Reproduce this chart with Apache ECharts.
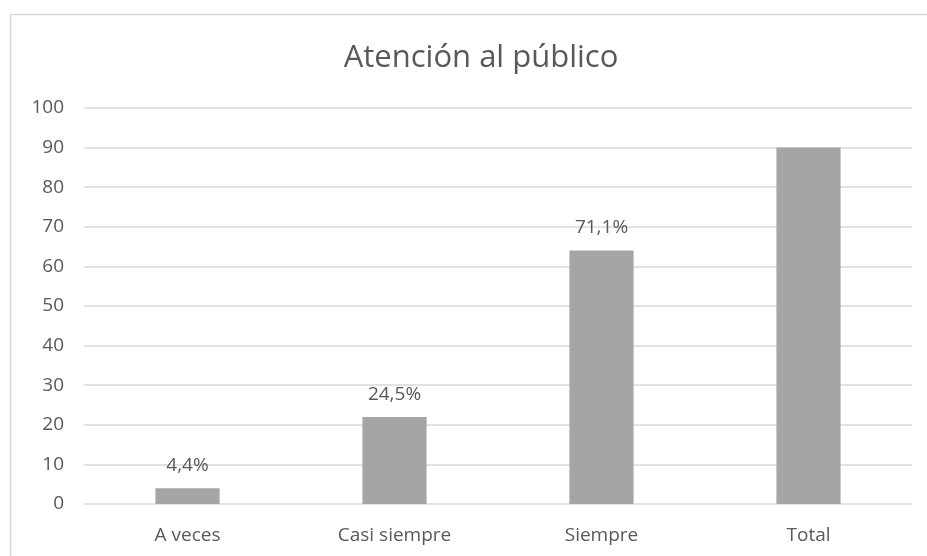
<!DOCTYPE html>
<html>
<head>
<meta charset="utf-8">
<script src="https://cdn.jsdelivr.net/npm/echarts@6/dist/echarts.min.js"></script>
<style>
  html, body { margin: 0; padding: 0; background: #fff; }
  #chart { width: 927px; height: 556px; }
</style>
</head>
<body>
<div id="chart"></div>
<script>
// Survey results: public service attention
const categories = ['A veces', 'Casi siempre', 'Siempre', 'Total'];
const counts = [4, 22, 64, 90];
const percentLabels = ['4,4%', '24,5%', '71,1%', ''];
const yTicks = { min: 0, max: 100, interval: 10 };

const chart = echarts.init(document.getElementById('chart'));
const font = '"Open Sans", "Noto Sans", sans-serif';

chart.setOption({
  backgroundColor: '#ffffff',
  animation: false,
  graphic: [{
    type: 'rect',
    shape: { x: 10.5, y: 14.5, width: 1000, height: 1000 },
    style: { fill: 'none', stroke: '#d9d9d9', lineWidth: 1.5 },
    silent: true
  }],
  title: {
    text: 'Atención al público',
    left: 476,
    textAlign: 'center',
    top: 38,
    textStyle: { fontFamily: font, fontSize: 31, fontWeight: 'normal', color: '#595959' }
  },
  grid: { left: 84, right: 15, top: 108, bottom: 52, containLabel: false },
  xAxis: {
    type: 'category',
    data: categories,
    axisLine: { show: false },
    axisTick: { show: false },
    axisLabel: { fontFamily: font, fontSize: 19, color: '#595959', margin: 22 }
  },
  yAxis: {
    type: 'value',
    min: yTicks.min,
    max: yTicks.max,
    interval: yTicks.interval,
    axisLine: { show: false },
    axisTick: { show: false },
    axisLabel: { fontFamily: font, fontSize: 19, color: '#595959', margin: 20 },
    splitLine: { lineStyle: { color: '#d9d9d9', width: 1.5 } }
  },
  series: [{
    type: 'bar',
    data: counts,
    barWidth: '31%',
    itemStyle: { color: '#a5a5a5' },
    label: {
      show: true,
      position: 'top',
      distance: 13,
      fontFamily: font,
      fontSize: 19,
      color: '#595959',
      formatter: p => percentLabels[p.dataIndex]
    }
  }]
});
</script>
</body>
</html>
